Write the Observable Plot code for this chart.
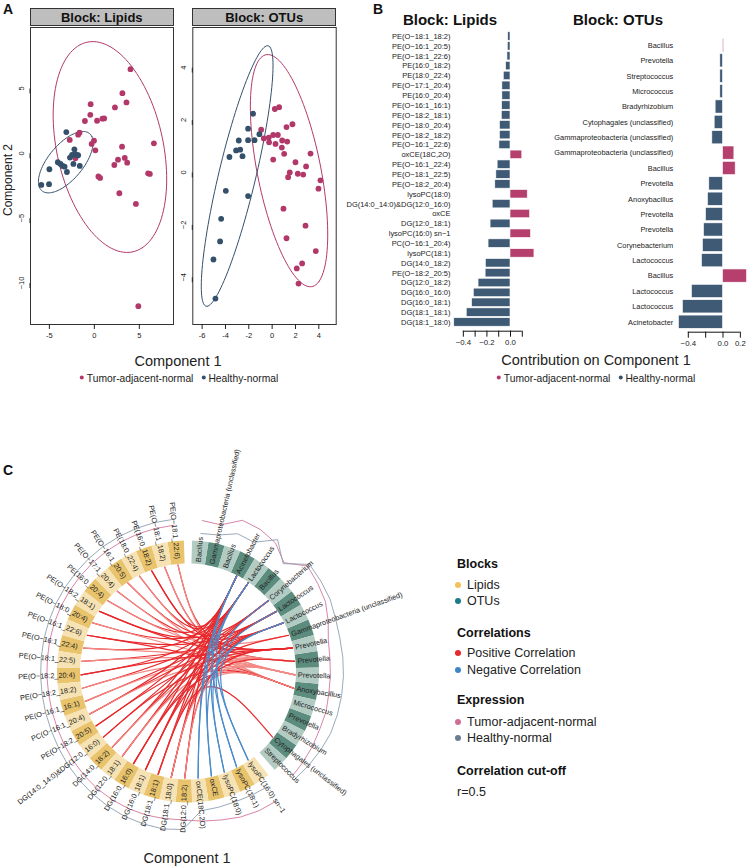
<!DOCTYPE html>
<html><head><meta charset="utf-8">
<script src="https://cdn.jsdelivr.net/npm/d3@7"></script>
<script src="https://cdn.jsdelivr.net/npm/@observablehq/plot@0.6"></script>
<style>
body{margin:0;background:#fff;font-family:"Liberation Sans",Arial,Helvetica,sans-serif;color:#111;}
#root{position:relative;width:747px;height:867px;overflow:hidden;background:#fff;}
#root svg{overflow:visible;}
.t{position:absolute;white-space:nowrap;}
</style></head><body><div id="root"></div>
<script>
// ---------------- DATA ----------------
// Panel A: sample scores (Component 1, Component 2)
const lipTumorX = [4.02,3.12,3.57,2.29,-0.41,-0.45,-1.05,0.30,0.90,1.09,-1.65,-1.80,-2.74,-0.04,-0.30,0.11,6.62,3.08,2.22,2.63,3.38,3.65,0.45,0.64,5.98,6.17,2.78,4.62,4.89,-2.11];
const lipTumorY = [6.49,4.64,3.92,3.54,3.79,2.97,2.49,2.51,2.67,2.69,1.59,1.44,1.03,0.97,0.72,0.23,0.77,0.51,-0.90,-0.49,-0.36,-0.72,-1.79,-1.90,-1.54,-1.59,-3.08,-3.90,-11.79,-0.38];
const lipHealthyX = [-3.12,-2.22,-2.14,-1.99,-2.48,-1.80,-2.71,-1.62,-3.05,-3.53,-3.76,-4.06,-3.31,-5.00,-5.90,-5.04,-2.33];
const lipHealthyY = [1.64,0.31,-0.05,-0.13,-0.13,-0.15,-0.33,-0.97,-1.44,-0.97,-0.82,-0.69,-1.03,-1.23,-2.44,-2.38,-0.82];
const otuTumorX = [0.23,0.60,-0.94,-0.71,-0.29,0.09,0.49,-0.26,0.29,0.86,1.29,0.83,1.03,0.09,1.23,1.74,3.29,2.00,2.91,1.51,2.20,2.66,1.37,4.14,3.97,0.97,1.23,2.86,3.74,2.57,2.11,2.26];
const otuTumorY = [2.42,2.49,1.63,1.30,1.33,1.43,1.43,1.15,1.09,1.22,1.18,0.95,0.71,0.49,1.73,1.84,0.72,0.39,0.23,0.00,-0.05,-0.08,-0.18,-0.30,-0.62,-1.38,-2.51,-2.03,-3.00,-3.47,-3.66,-4.24];
const otuHealthyX = [-1.63,-2.06,-1.09,-1.51,-2.06,-2.86,-3.09,-2.74,-2.54,-3.66,-3.97,-2.06,-4.37,-4.46,-5.03,-4.86];
const otuHealthyY = [2.24,1.67,1.46,1.23,1.23,1.22,0.84,0.87,0.62,0.59,-0.70,-0.90,-1.77,-2.63,-3.32,-4.81];
const lipXTicks = [-5,0,5], lipYTicks = [-10,-5,0,5];
const otuXTicks = [-6,-4,-2,0,2,4], otuYTicks = [-4,-2,0,2,4];

// Panel B: loadings on component 1
const lipNames = ["PE(O−18:1_18:2)","PE(O−16:1_20:5)","PE(O−18:1_22:6)","PE(16:0_18:2)","PE(18:0_22:4)","PE(O−17:1_20:4)","PE(16:0_20:4)","PE(O−16:1_16:1)","PE(O−18:2_18:1)","PE(O−18:0_20:4)","PE(O−18:2_18:2)","PE(O−16:1_22:6)","oxCE(18C,2O)","PE(O−16:1_22:4)","PE(O−18:1_22:5)","PE(O−18:2_20:4)","lysoPC(18:0)","DG(14:0_14:0)&DG(12:0_16:0)","oxCE","DG(12:0_18:1)","lysoPC(16:0) sn−1","PC(O−16:1_20:4)","lysoPC(18:1)","DG(14:0_18:2)","PE(O−18:2_20:5)","DG(12:0_18:2)","DG(16:0_16:0)","DG(16:0_18:1)","DG(18:1_18:1)","DG(18:1_18:0)"];
const lipLoad = [-0.020,-0.023,-0.026,-0.037,-0.057,-0.069,-0.069,-0.071,-0.074,-0.089,-0.089,-0.094,0.100,-0.109,-0.120,-0.129,0.146,-0.151,0.166,-0.169,0.174,-0.186,0.203,-0.209,-0.211,-0.271,-0.311,-0.326,-0.371,-0.477];
const otuNames = ["Bacillus","Prevotella","Streptococcus","Micrococcus","Bradyrhizobium","Cytophagales (unclassified)","Gammaproteobacteria (unclassified)","Gammaproteobacteria (unclassified)","Bacillus","Prevotella","Anoxybacillus","Prevotella","Prevotella","Corynebacterium","Lactococcus","Bacillus","Lactococcus","Lactococcus","Acinetobacter"];
const otuLoad = [0.012,-0.031,-0.031,-0.031,-0.085,-0.096,-0.123,0.131,0.146,-0.158,-0.173,-0.196,-0.219,-0.231,-0.242,0.277,-0.358,-0.462,-0.508];
const lipBTicks = [-0.4,-0.3,-0.2,-0.1,0.0,0.1];
const lipBTickLabels = ["−0.4","","−0.2","","0.0",""];
const otuBTicks = [-0.4,-0.2,0.0,0.2];
const otuBTickLabels = ["−0.4","","0.0","0.2"];

// Panel C: circos
const circLipids = ["PE(O−18:1_22:6)","PE(O−18:1_18:2)","PE(16:0_18:2)","PE(18:0_22:4)","PE(O−16:1_20:5)","PE(O−17:1_20:4)","PE(16:0_20:4)","PE(O−18:2_18:1)","PE(O−18:0_20:4)","PE(O−16:1_22:6)","PE(O−16:1_22:4)","PE(O−18:1_22:5)","PE(O−18:2_20:4)","PE(O−18:2_18:2)","PE(O−16:1_16:1)","PC(O−16:1_20:4)","PE(O−18:2_20:5)","DG(14:0_14:0)&DG(12:0_16:0)","DG(14:0_18:2)","DG(12:0_18:1)","DG(16:0_16:0)","DG(16:0_18:1)","DG(18:1_18:1)","DG(18:1_18:0)","DG(12:0_18:2)","oxCE(18C,2O)","oxCE","lysoPC(18:0)","lysoPC(18:1)","lysoPC(16:0) sn−1"];
const circOTUs = ["Bacillus","Gammaproteobacteria (unclassified)","Bacillus","Acinetobacter","Lactococcus","Bacillus","Corynebacterium","Lactococcus","Lactococcus","Gammaproteobacteria (unclassified)","Prevotella","Prevotella","Prevotella","Anoxybacillus","Micrococcus","Prevotella","Bradyrhizobium","Cytophagales (unclassified)","Streptococcus"];
const lipExprTumor = [0.42,0.41,0.40,0.38,0.36,0.33,0.30,0.28,0.26,0.24,0.22,0.20,0.20,0.20,0.22,0.25,0.30,0.36,0.42,0.47,0.50,0.52,0.52,0.50,0.48,0.55,0.62,0.72,0.78,0.80];
const lipExprHealthy = [0.65,0.64,0.62,0.60,0.58,0.55,0.52,0.50,0.48,0.46,0.45,0.44,0.44,0.45,0.47,0.50,0.55,0.62,0.68,0.74,0.80,0.85,0.88,0.90,0.85,0.15,0.12,0.10,0.12,0.15];
const otuExprTumor = [0.60,0.55,0.95,0.90,0.75,0.35,0.90,0.80,0.70,0.50,0.30,0.25,0.25,0.25,0.30,0.30,0.35,0.40,0.45];
const otuExprHealthy = [0.10,0.15,0.40,0.35,0.90,0.30,1.00,0.95,0.90,0.80,0.75,0.75,0.75,0.75,0.75,0.75,0.70,0.65,0.60];
const chordLipid = [0,0,1,1,2,2,3,3,4,4,5,5,6,6,7,7,8,8,9,9,10,10,11,11,12,12,13,13,14,14,15,15,15,16,16,17,17,18,18,18,19,19,19,20,20,20,21,21,21,22,22,22,22,23,23,23,23,24,24,24,25,25,26,26,27,27,28,28,29,29];
const chordOTU   = [10,13,11,12,3,10,4,11,7,12,8,13,3,9,6,10,4,12,7,13,3,11,8,12,4,10,6,13,7,11,3,8,12,4,10,6,13,3,7,11,4,8,12,3,9,13,4,6,10,3,7,12,17,4,8,11,13,3,10,12,3,4,3,8,4,7,3,6,4,8];
const chordR     = [0.62,0.55,0.60,0.53,0.66,0.58,0.63,0.54,0.61,0.52,0.64,0.57,0.65,0.55,0.62,0.60,0.66,0.53,0.63,0.58,0.67,0.56,0.62,0.52,0.66,0.59,0.63,0.57,0.64,0.55,0.68,0.61,0.54,0.67,0.60,0.65,0.58,0.70,0.63,0.57,0.69,0.62,0.55,0.71,0.60,0.58,0.70,0.64,0.59,0.72,0.66,0.56,0.61,0.73,0.65,0.60,0.57,0.68,0.62,0.54,-0.62,-0.58,-0.64,-0.56,-0.63,-0.57,-0.61,-0.55,-0.60,-0.56];

// ---------------- STYLE ----------------
const FONT = '"Liberation Sans", Arial, Helvetica, sans-serif';
const PINK = "#B3386A", NAVY = "#34506B";
const root = document.getElementById("root");
function put(el, left, top){ el.style.position="absolute"; el.style.left=left+"px"; el.style.top=top+"px"; root.appendChild(el); return el; }
function txt(s, x, y, css, anchor){ const d=document.createElement("div"); d.className="t"; d.textContent=s; d.style.cssText += css||""; d.style.left=x+"px"; d.style.top=y+"px"; d.style.transform = anchor==="c" ? "translate(-50%,-50%)" : "translate(0,-50%)"; root.appendChild(d); return d; }
function legendRow(x, y, size, items){ const d=document.createElement("div"); d.className="t"; d.style.left=x+"px"; d.style.top=y+"px"; d.style.transform="translate(-50%,-50%)"; d.style.fontSize=size+"px"; d.style.color="#222";
  d.innerHTML = items.map(([c,l])=>`<span style="display:inline-block;width:4px;height:4px;border-radius:50%;background:${c};vertical-align:middle;margin:0 3px 2px 0"></span>${l}`).join('<span style="display:inline-block;width:8px"></span>'); root.appendChild(d); }

// ---------------- PANEL A ----------------
function confEllipse(xs, ys){
  const n=xs.length, mx=d3.mean(xs), my=d3.mean(ys);
  let sxx=0,syy=0,sxy=0;
  for(let i=0;i<n;i++){const dx=xs[i]-mx, dy=ys[i]-my; sxx+=dx*dx; syy+=dy*dy; sxy+=dx*dy;}
  sxx/=n-1; syy/=n-1; sxy/=n-1;
  const tr=sxx+syy, det=sxx*syy-sxy*sxy, disc=Math.sqrt(Math.max(0,tr*tr/4-det));
  const l1=tr/2+disc, l2=tr/2-disc;
  let vx=l1-syy, vy=sxy; const nn=Math.hypot(vx,vy)||1; vx/=nn; vy/=nn;
  const t=Math.sqrt(5.991);
  return d3.range(0,121).map(i=>{const a=2*Math.PI*i/120; const c=Math.cos(a)*Math.sqrt(l1)*t, s=Math.sin(a)*Math.sqrt(Math.max(l2,0))*t; return {x:mx+c*vx-s*vy, y:my+c*vy+s*vx};});
}
function scatter(tx,ty,hx,hy,opt){
  const T = tx.map((x,i)=>({x, y:ty[i]})), H = hx.map((x,i)=>({x, y:hy[i]}));
  return Plot.plot({
    width: opt.width, height: 340, marginLeft: opt.ml, marginRight: opt.mr, marginTop: 27, marginBottom: 16,
    x: {domain: opt.xd, label: null}, y: {domain: opt.yd, label: null},
    style: {fontFamily: FONT, fontSize: "7.5px", color: "#222", background: "transparent", overflow:"visible"},
    marks: [
      Plot.frame({stroke: "#333", strokeWidth: 1}),
      Plot.line(confEllipse(tx,ty), {x:"x", y:"y", stroke: PINK, strokeWidth: 1}),
      Plot.line(confEllipse(hx,hy), {x:"x", y:"y", stroke: NAVY, strokeWidth: 1}),
      Plot.dot(T, {x:"x", y:"y", r: 2.9, fill: PINK}),
      Plot.dot(H, {x:"x", y:"y", r: 2.9, fill: NAVY}),
      Plot.axisX({ticks: opt.xt, tickSize: 5, tickPadding: 3, label: null, tickFormat: d=>String(d).replace("-","-")}),
      Plot.axisY({ticks: opt.yt, tickSize: 5, tickPadding: 4, rotate: -90, textAnchor: "middle", label: null})
    ]
  });
}
put(scatter(lipTumorX,lipTumorY,lipHealthyX,lipHealthyY,{width:180, ml:30, mr:7, xd:[-7.1,8.8], yd:[-13.2,9.7], xt:lipXTicks, yt:lipYTicks}), 0, 0);
put(scatter(otuTumorX,otuTumorY,otuHealthyX,otuHealthyY,{width:160, ml:12.3, mr:4.3, xd:[-6.8,5.49], yd:[-5.8,5.53], xt:otuXTicks, yt:otuYTicks}), 180, 0);
function strip(label, x0, x1){ const d=document.createElement("div"); d.className="t"; d.textContent=label;
  d.style.cssText += `left:${x0}px;top:8px;width:${x1-x0}px;height:18px;background:#BEBEBE;border:1px solid #333;box-sizing:border-box;text-align:center;font-weight:bold;font-size:13px;line-height:17px;color:#111;`; root.appendChild(d); }
strip("Block: Lipids", 30, 173.5);
strip("Block: OTUs", 192.3, 336);
txt("A", 3, 9, "font-weight:bold;font-size:14px;", "l");
const c2 = txt("Component 2", 8, 180, "font-size:12px;color:#222;", "c"); c2.style.transform="translate(-50%,-50%) rotate(-90deg)";
txt("Component 1", 178, 361, "font-size:14.5px;color:#222;", "c");
legendRow(179, 378, 10.3, [[PINK,"Tumor-adjacent-normal"],[NAVY,"Healthy-normal"]]);

// ---------------- PANEL B ----------------
function loadings(names, vals, ticks, tickLabels, o){
  const n = names.length;
  const rows = names.map((name,i)=>({i, name, v: vals[i]}));
  return Plot.plot({
    width: o.width, height: o.height, marginLeft: o.ml, marginRight: o.mr, marginTop: o.mt, marginBottom: 25,
    x: {domain: o.xd, label: null},
    y: {domain: [n-0.5+o.off, -0.5], label: null},
    style: {fontFamily: FONT, fontSize: o.fs+"px", color: "#222", background: "transparent", overflow:"visible"},
    marks: [
      Plot.rectX(rows, {x1: () => 0, x2: "v", y1: d=>d.i-0.43, y2: d=>d.i+0.43, fill: d=> d.v>0 ? "#B5406E" : "#3F5A74", stroke: "#fff", strokeWidth: 0.6}),
      Plot.ruleY([n-0.5+o.off], {x1: () => ticks[0], x2: () => ticks[ticks.length-1], stroke: "#111", strokeWidth: 1}),
      Plot.axisX({ticks, tickSize: 6, tickPadding: 2, tickFormat: (d,i)=>tickLabels[i], label: null, stroke:"#111", fontSize: 7.8}),
      Plot.axisY({ticks: d3.range(n), tickFormat: i=>names[i], tickSize: 0, tickPadding: o.tp, label: null, fontSize: o.fs})
    ]
  });
}
put(loadings(lipNames, lipLoad, lipBTicks, lipBTickLabels, {width:180, height:330.7, ml:83.4, mr:28.2, mt:6.07, xd:[-0.48,0.1], off:0.385, tp:3.4, fs:7.5}), 370, 25);
put(loadings(otuNames, otuLoad, otuBTicks, otuBTickLabels, {width:187, height:331.7, ml:117.4, mr:0.2, mt:12.3, xd:[-0.52,0.28], off:0.15, tp:4.7, fs:7.4}), 560, 25);
txt("B", 373, 9, "font-weight:bold;font-size:14px;", "l");
txt("Block: Lipids", 450, 19, "font-weight:bold;font-size:15px;", "c");
txt("Block: OTUs", 618, 19, "font-weight:bold;font-size:15px;", "c");
txt("Contribution on Component 1", 596, 360, "font-size:14.5px;color:#222;", "c");
legendRow(596, 378, 10.3, [[PINK,"Tumor-adjacent-normal"],[NAVY,"Healthy-normal"]]);

// ---------------- PANEL C ----------------
const SEG = 7.2, GAP = 3.6, RIN = 108, ROUT = 131;
const CX = 187.5, CY = 671, CL = 0, CT = 430, CW = 450, CH = 437;
const pol = (r, deg) => { const a = deg*Math.PI/180; return {x: r*Math.sin(a), y: r*Math.cos(a)}; };
const lipSeg = circLipids.map((name,k)=>({name, a0: -GAP/2 - k*SEG, a1: -GAP/2 - (k+1)*SEG, dark: k%2===0, block:"L"}));
const otuSeg = circOTUs.map((name,i)=>({name, a0: GAP/2 + i*SEG, a1: GAP/2 + (i+1)*SEG, dark: i%2===1, block:"O"}));
const allSeg = lipSeg.concat(otuSeg).map((s,j)=>({...s, id:j, mid:(s.a0+s.a1)/2}));
function poly(s){ const pts=[]; for(let q=0;q<=8;q++){const a=s.a0+(s.a1-s.a0)*q/8; pts.push({...pol(ROUT,a), id:s.id});} for(let q=8;q>=0;q--){const a=s.a0+(s.a1-s.a0)*q/8; pts.push({...pol(RIN,a), id:s.id});} return pts; }
const segFill = {Ld:"#E9C46C", Ll:"#F6E2B2", Od:"#5C8C7D", Ol:"#B2CBC3"};
const segMarks = Object.entries(segFill).map(([k,col])=>{
  const pts = allSeg.filter(s=>s.block===k[0] && s.dark===(k[1]==="d")).flatMap(poly);
  return Plot.line(pts, {x:"x", y:"y", z:"id", fill: col, stroke: "none"});
});
// labels
const labs = allSeg.map(s=>{ const right = Math.sin(s.mid*Math.PI/180) > 0; const r = right ? 110 : 113; return {...pol(r, s.mid), text: s.name, right, rot: right ? s.mid-90 : s.mid+90}; });
// expression lines
const exprLine = (segs, vals, grp) => segs.map((s,i)=>({...pol(136+26*vals[i], (s.a0+s.a1)/2), g: grp}));
const exprPts = [
  ...exprLine(lipSeg, lipExprTumor, "LT"), ...exprLine(lipSeg, lipExprHealthy, "LH"),
  ...exprLine(otuSeg, otuExprTumor, "OT"), ...exprLine(otuSeg, otuExprHealthy, "OH")];
// chords
const ctrl = {x: 12, y: 18};
const chordPts = chordLipid.flatMap((li,k)=>{
  const a = lipSeg[li], b = otuSeg[chordOTU[k]], r = chordR[k];
  const col = r < 0 ? "#4A8BCB" : (r >= 0.58 ? "#E8282B" : "#F28A85");
  const p0 = pol(RIN-1, (a.a0+a.a1)/2), p2 = pol(RIN-1, (b.a0+b.a1)/2);
  return [{...p0, id:k, col}, {...ctrl, id:k, col}, {...p2, id:k, col}];
});
const circ = Plot.plot({
  width: CW, height: CH, margin: 0,
  x: {domain: [CL-CX, CL+CW-CX], axis: null}, y: {domain: [CY-(CT+CH), CY-CT], axis: null},
  style: {fontFamily: FONT, background: "transparent", overflow:"visible"},
  marks: [
    ...segMarks,
    Plot.line(exprPts, {x:"x", y:"y", z:"g", stroke: d=>d.g[1]==="T" ? "#D4779D" : "#8E9FB0", strokeWidth: 0.9}),
    Plot.line(chordPts, {x:"x", y:"y", z:"id", stroke:"col", strokeWidth: 1.2, curve: "basis"}),
    Plot.text(labs.filter(d=>d.right), {x:"x", y:"y", text:"text", rotate:"rot", textAnchor:"start", fontSize: 7.3, fill:"#222"}),
    Plot.text(labs.filter(d=>!d.right), {x:"x", y:"y", text:"text", rotate:"rot", textAnchor:"end", fontSize: 7.3, fill:"#222"})
  ]
});
put(circ, CL, CT);
txt("C", 3, 470, "font-weight:bold;font-size:14px;", "l");
txt("Component 1", 187, 858, "font-size:14.5px;color:#222;", "c");

// legend C
function head(s,y){ txt(s, 457, y, "font-weight:bold;font-size:12.5px;color:#111;", "l"); }
function item(col,s,y){ const d=document.createElement("div"); d.className="t"; d.style.left="455px"; d.style.top=y+"px"; d.style.transform="translate(0,-50%)"; d.style.fontSize="12.5px"; d.style.color="#222";
  d.innerHTML=`<span style="display:inline-block;width:6px;height:6px;border-radius:50%;background:${col};vertical-align:middle;margin:0 6px 2px 0"></span>${s}`; root.appendChild(d); }
head("Blocks", 564); item("#F2C35C","Lipids",585); item("#1D7A8A","OTUs",601);
head("Correlations", 633); item("#E8282B","Positive Correlation",653); item("#3F85C8","Negative Correlation",670);
head("Expression", 700); item("#D06D95","Tumor-adjacent-normal",722); item("#697E92","Healthy-normal",738);
head("Correlation cut-off", 771); txt("r=0.5", 457, 792, "font-size:12.5px;color:#222;", "l");
</script></body></html>
